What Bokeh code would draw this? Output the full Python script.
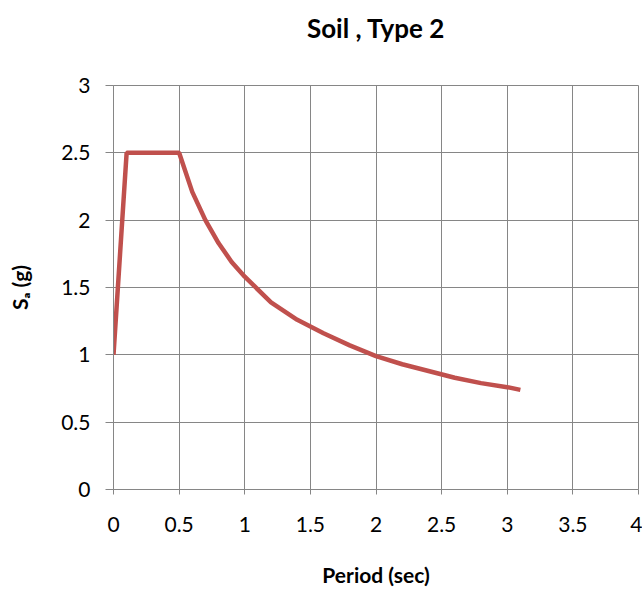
from bokeh.plotting import figure
from bokeh.models import Range1d, FixedTicker, Title
from bokeh.embed import file_html
from bokeh.resources import INLINE

period = [0.0, 0.1, 0.5, 0.6, 0.7, 0.8, 0.9, 1.0, 1.2, 1.4, 1.6, 1.8, 2.0, 2.2, 2.4, 2.6, 2.8, 3.0, 3.1]
sa = [1.0, 2.5, 2.5, 2.21, 2.0, 1.83, 1.69, 1.58, 1.39, 1.26, 1.16, 1.07, 0.99, 0.93, 0.88, 0.83, 0.79, 0.76, 0.74]
x_ticks = [0, 0.5, 1, 1.5, 2, 2.5, 3, 3.5, 4]
y_ticks = [0, 0.5, 1, 1.5, 2, 2.5, 3]

FONT = "Lato"
GRID = "#868686"

p = figure(width=642, height=590, output_backend="svg", toolbar_location=None,
           x_range=Range1d(0, 4), y_range=Range1d(0, 3),
           min_border_left=113, min_border_right=4, min_border_top=85, min_border_bottom=101)

# spacer panel between frame and title
p.add_layout(Title(text=" ", text_font_size="2px", standoff=38), "above")
title = Title(text="Soil , Type 2", align="center", text_font=FONT, text_font_size="26px",
              text_font_style="bold", text_color="black", standoff=0)
p.add_layout(title, "above")

p.line(period, sa, line_color="#C0504D", line_width=4.5)

for ax in (p.xaxis, p.yaxis):
    ax.major_label_text_font = FONT
    ax.major_label_text_font_size = "21px"
    ax.major_label_text_color = "black"
    ax.axis_line_color = GRID
    ax.major_tick_line_color = GRID
    ax.major_tick_in = 0
    ax.minor_tick_line_color = None
    ax.axis_label_text_font = FONT
    ax.axis_label_text_font_size = "21px"
    ax.axis_label_text_font_style = "bold"
    ax.axis_label_text_color = "black"

p.xaxis.major_tick_out = 5
p.yaxis.major_tick_out = 8
p.xaxis.ticker = FixedTicker(ticks=x_ticks)
p.yaxis.ticker = FixedTicker(ticks=y_ticks)
p.xaxis.major_label_overrides = {0: "0", 1: "1", 2: "2", 3: "3", 4: "4"}
p.yaxis.major_label_overrides = {0: "0", 1: "1", 2: "2", 3: "3"}
p.xaxis.major_label_standoff = 22
p.yaxis.major_label_standoff = 15

p.xaxis.axis_label = "Period (sec)"
p.xaxis.axis_label_standoff = 27
p.yaxis.axis_label = "S\u2090 (g)"
p.yaxis.axis_label_standoff = 26

p.xgrid.ticker = FixedTicker(ticks=x_ticks)
p.ygrid.ticker = FixedTicker(ticks=y_ticks)
p.grid.grid_line_color = GRID
p.grid.grid_line_width = 1
p.outline_line_color = GRID

open("out.html", "w").write(file_html(p, INLINE))
